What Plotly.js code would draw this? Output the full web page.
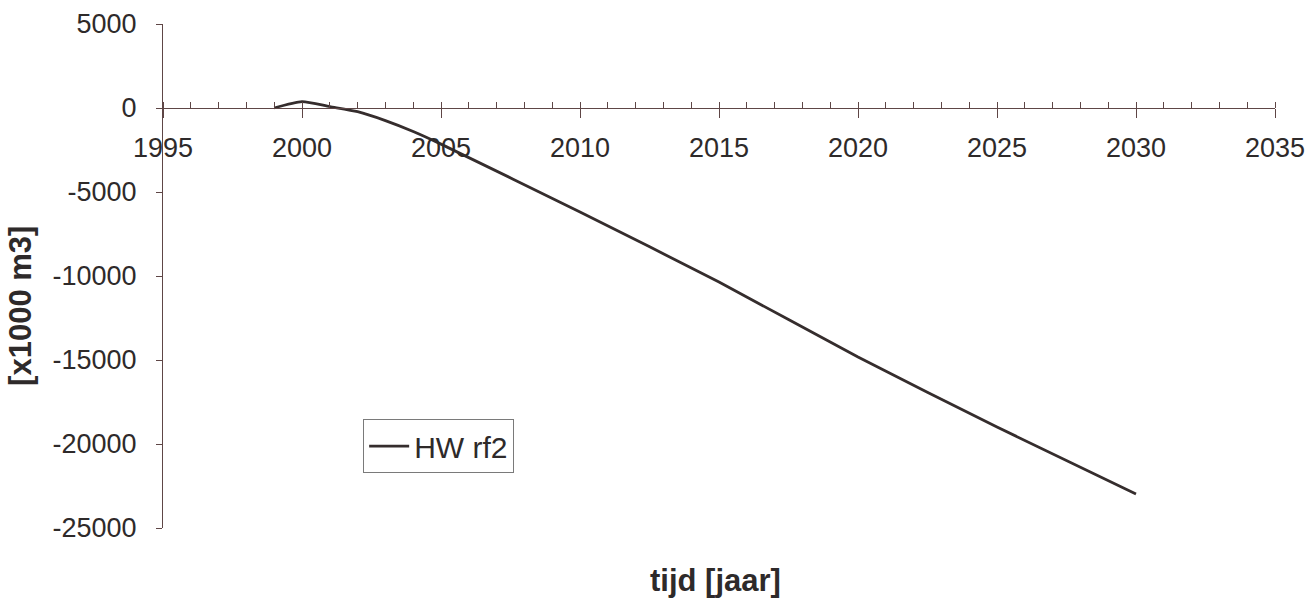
<!DOCTYPE html>
<html>
<head>
<meta charset="utf-8">
<script src="https://cdn.plot.ly/plotly-3.0.1.min.js"></script>
<style>html,body{margin:0;padding:0;background:#fff;}#chart{width:1314px;height:600px;}</style>
</head>
<body>
<div id="chart"></div>
<script>
const years = [1999, 2000, 2001, 2002, 2003, 2004, 2005, 2010, 2015, 2020, 2025, 2030];
const hwRf2 = [0, 380, 80, -220, -750, -1400, -2150, -6190, -10360, -14820, -18990, -22980];
const seriesName = 'HW rf2';
const xTitle = 'tijd [jaar]';
const yTitle = '[x1000 m3]';
const yTickVals = [5000, 0, -5000, -10000, -15000, -20000, -25000];
const yTickText = ['5000', '0', '-5000', '-10000', '-15000', '-20000', '-25000'];
const xTickVals = [1995, 2000, 2005, 2010, 2015, 2020, 2025, 2030, 2035];
const xTickText = ['1995', '2000', '2005', '2010', '2015', '2020', '2025', '2030', '2035'];

const fam = 'Liberation Sans, Arial, sans-serif';
const txt = '#2e2a2a';
const tickFont = {family: fam, size: 27, color: txt};
const titleFont = {family: fam, size: 31, color: txt};
const axisColor = '#5e4646';

Plotly.newPlot('chart', [{
  x: years, y: hwRf2, name: seriesName, type: 'scatter', mode: 'lines',
  line: {color: '#352d2d', width: 2.8, shape: 'spline', smoothing: 0.6}
}], {
  width: 1314, height: 600,
  margin: {l: 163, r: 39, t: 24, b: 72},
  paper_bgcolor: '#fff', plot_bgcolor: '#fff',
  font: tickFont,
  showlegend: true,
  legend: {x: 0.18, y: 0.216, xanchor: 'left', yanchor: 'top',
    bordercolor: '#7a7a7a', borderwidth: 1, bgcolor: '#fff',
    font: {family: fam, size: 30, color: txt}, itemwidth: 40, tracegroupgap: 0},
  xaxis: {
    range: [1995, 2035], anchor: 'free', position: 25000/30000,
    tickmode: 'array', tickvals: xTickVals, ticktext: xTickText,
    ticks: 'outside', ticklen: 9, tickwidth: 1.2, tickcolor: axisColor,
    minor: {dtick: 1, tick0: 1995, ticks: 'inside', ticklen: 6, tickwidth: 1, tickcolor: axisColor, showgrid: false},
    showline: true, linecolor: axisColor, linewidth: 1.2,
    showgrid: false, zeroline: false,
    ticklabelstandoff: 6, tickfont: tickFont
  },
  yaxis: {
    range: [-25000, 5000], tickmode: 'array', tickvals: yTickVals, ticktext: yTickText,
    ticks: 'outside', ticklen: 6, tickwidth: 1.2, tickcolor: axisColor,
    showline: true, linecolor: axisColor, linewidth: 1.2,
    showgrid: false, zeroline: false,
    ticklabelstandoff: 14, tickfont: tickFont
  },
  annotations: [
    {text: '<b>' + xTitle + '</b>', xref: 'paper', yref: 'paper', x: 0.497, y: -0.105,
     xanchor: 'center', yanchor: 'middle', showarrow: false, font: titleFont},
    {text: '<b>' + yTitle + '</b>', xref: 'paper', yref: 'paper', x: -0.128, y: 0.44,
     xanchor: 'center', yanchor: 'middle', showarrow: false, textangle: -90, font: titleFont}
  ]
}, {displayModeBar: false});
</script>
</body>
</html>
